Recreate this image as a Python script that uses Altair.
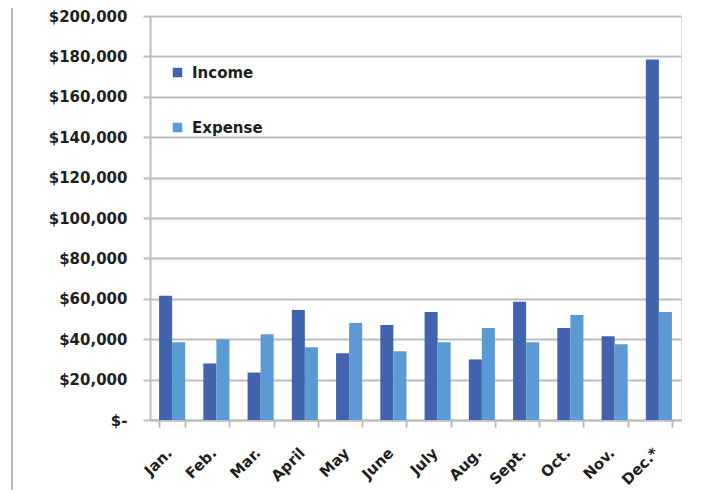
import altair as alt
import pandas as pd

months = ["Jan.", "Feb.", "Mar.", "April", "May", "June", "July", "Aug.", "Sept.", "Oct.", "Nov.", "Dec.*"]
income = [61500, 28000, 23500, 54500, 33000, 47000, 53500, 30000, 58500, 45500, 41500, 178500]
expense = [38500, 40000, 42500, 36000, 48000, 34000, 38500, 45500, 38500, 52000, 37500, 53500]
series = ["Income", "Expense"]
colors = ["#4263AE", "#5B9BD5"]
y_ticks = list(range(0, 200001, 20000))

rows = []
for m, i, e in zip(months, income, expense):
    rows.append({"Month": m, "Series": "Income", "Value": i})
    rows.append({"Month": m, "Series": "Expense", "Value": e})
df = pd.DataFrame(rows)

FONT = "DejaVu Sans"
GRID = "#BDBDBD"
TEXT = "#1F1F1F"

bars = alt.Chart(df).mark_bar().encode(
    x=alt.X(
        "Month:N", sort=months,
        scale=alt.Scale(paddingInner=0.41, paddingOuter=0.205),
        axis=alt.Axis(
            title=None, labelAngle=-45, labelAlign="right", labelBaseline="middle",
            tickBand="extent", tickSize=7, tickColor=GRID, tickWidth=2,
            domainColor=GRID, domainWidth=2, grid=False,
            labelFont=FONT, labelFontSize=15, labelFontWeight="bold", labelColor=TEXT,
            labelPadding=23, labelOffset=-3,
        ),
    ),
    xOffset=alt.XOffset("Series:N", sort=series, scale=alt.Scale(domain=series, paddingInner=0, paddingOuter=0)),
    y=alt.Y(
        "Value:Q",
        scale=alt.Scale(domain=[0, 200000], nice=False),
        axis=alt.Axis(
            title=None, values=y_ticks,
            labelExpr="datum.value == 0 ? '$-\u00a0\u00a0' : '$' + format(datum.value, ',')",
            grid=True, gridColor=GRID, gridWidth=2,
            tickSize=7, tickColor=GRID, tickWidth=2,
            domainColor=GRID, domainWidth=2,
            labelFont=FONT, labelFontSize=15, labelFontWeight="bold", labelColor=TEXT,
            labelPadding=16,
        ),
    ),
    color=alt.Color(
        "Series:N", sort=series,
        scale=alt.Scale(domain=series, range=colors),
        legend=alt.Legend(
            title=None, orient="none", legendX=20, legendY=49,
            symbolType="square", symbolSize=90, symbolStrokeWidth=0,
            labelFont=FONT, labelFontSize=15, labelFontWeight="bold", labelColor=TEXT,
            rowPadding=39, labelOffset=7,
        ),
    ),
)

frame = alt.Chart(pd.DataFrame({"v": [0]})).mark_rule(color="#BBBBBB", strokeWidth=2).encode(
    x=alt.value(-138), y=alt.value(-30), y2=alt.value(490)
)

chart = alt.layer(bars, frame).properties(
    width=531, height=404, autosize="none",
    padding={"left": 142, "top": 8, "right": 29, "bottom": 70},
).configure_view(stroke=None).configure(background="white")

chart.save("out.html", embed_options={"renderer": "svg", "actions": False})
